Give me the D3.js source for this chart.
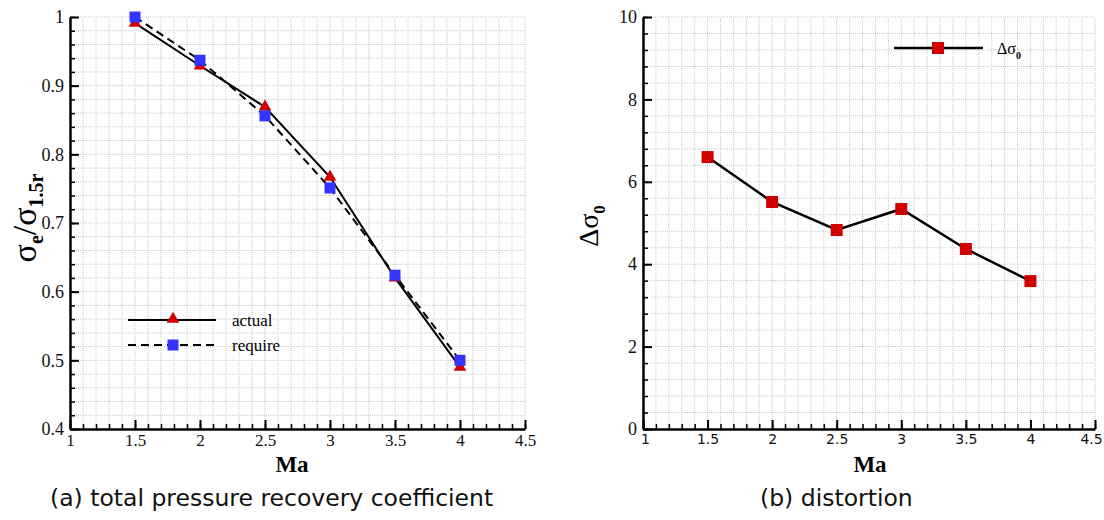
<!DOCTYPE html>
<html>
<head>
<meta charset="utf-8">
<script src="https://cdn.jsdelivr.net/npm/d3@7"></script>
<style>
  body { margin: 0; background: #fff; }
  svg { display: block; }
</style>
</head>
<body>
<svg width="1104" height="520"></svg>
<script>
// data
var mach = [1.5, 2, 2.5, 3, 3.5, 4];
var actual = [0.991, 0.929, 0.869, 0.767, 0.620, 0.490];
var required = [1.0, 0.937, 0.856, 0.751, 0.624, 0.500];
var distortion = [6.60, 5.51, 4.83, 5.34, 4.37, 3.59];

var xTicks = [1, 1.5, 2, 2.5, 3, 3.5, 4, 4.5];
var leftYTicks = [0.4, 0.5, 0.6, 0.7, 0.8, 0.9, 1];
var rightYTicks = [0, 2, 4, 6, 8, 10];

var svg = d3.select("svg");
var red = "#d10000", blue = "#3434ff";
var serif = "'Liberation Serif', 'Times New Roman', serif";
var sans = "'DejaVu Sans', Verdana, sans-serif";

function range(a, b, step) {
  var out = [];
  var n = Math.round((b - a) / step);
  for (var i = 0; i <= n; i++) out.push(+(a + i * step).toFixed(4));
  return out;
}

// one panel: grid, axes with inward ticks
function panel(x, y, yMinorStep, yTicks, yFmt, xFont, xFontSize) {
  var g = svg.append("g");
  var x0 = x.range()[0], x1 = x.range()[1];
  var y0 = y.range()[0], y1 = y.range()[1];
  var yd = y.domain();

  // dotted grid at the minor ticks
  g.selectAll(".vg").data(range(1, 4.5, 0.1)).enter().append("line")
    .attr("x1", function(d) { return x(d); }).attr("x2", function(d) { return x(d); })
    .attr("y1", y0).attr("y2", y1)
    .attr("stroke", "#c8c8c8").attr("stroke-width", 1).attr("stroke-dasharray", "1,1");
  g.selectAll(".hg").data(range(yd[0], yd[1], yMinorStep)).enter().append("line")
    .attr("y1", function(d) { return y(d); }).attr("y2", function(d) { return y(d); })
    .attr("x1", x0).attr("x2", x1)
    .attr("stroke", "#c8c8c8").attr("stroke-width", 1).attr("stroke-dasharray", "1,1");

  // minor ticks
  g.append("g").attr("transform", "translate(0," + y0 + ")")
    .call(d3.axisBottom(x).tickValues(range(1, 4.5, 0.1)).tickSize(-5).tickFormat(""))
    .call(function(a) { a.select(".domain").remove(); a.selectAll("line").attr("stroke-width", 1.5); });
  g.append("g").attr("transform", "translate(" + x0 + ",0)")
    .call(d3.axisLeft(y).tickValues(range(yd[0], yd[1], yMinorStep)).tickSize(-5).tickFormat(""))
    .call(function(a) { a.select(".domain").remove(); a.selectAll("line").attr("stroke-width", 1.5); });

  // major ticks + labels
  var xa = g.append("g").attr("transform", "translate(0," + y0 + ")")
    .call(d3.axisBottom(x).tickValues(xTicks).tickSize(-9).tickSizeOuter(0).tickPadding(5)
      .tickFormat(function(d) { return String(d); }));
  xa.selectAll("text").attr("font-family", xFont).attr("font-size", xFontSize).attr("fill", "#111");
  var ya = g.append("g").attr("transform", "translate(" + x0 + ",0)")
    .call(d3.axisLeft(y).tickValues(yTicks).tickSize(-9).tickSizeOuter(0).tickPadding(6).tickFormat(yFmt));
  ya.selectAll("text").attr("font-family", serif).attr("font-size", 18).attr("fill", "#111");
  g.selectAll(".domain").attr("stroke", "#000").attr("stroke-width", 2.5);
  g.selectAll(".tick line").attr("stroke", "#000");
  xa.selectAll(".tick line").attr("stroke-width", 2);
  ya.selectAll(".tick line").attr("stroke-width", 2);
  return { g: g, xa: xa };
}

// ---------- left panel ----------
var xL = d3.scaleLinear().domain([1, 4.5]).range([70, 525]);
var yL = d3.scaleLinear().domain([0.4, 1]).range([429, 17]);
var pL = panel(xL, yL, 0.02, leftYTicks, function(d) { return d === 1 ? "1" : d3.format(".1f")(d); }, serif, 17);
var gL = pL.g;

var lineL = d3.line()
  .x(function(d, i) { return xL(mach[i]); }).y(function(d) { return yL(d); });
gL.append("path").datum(required).attr("d", lineL)
  .attr("fill", "none").attr("stroke", "#000").attr("stroke-width", 2).attr("stroke-dasharray", "8,5");
gL.append("path").datum(actual).attr("d", lineL)
  .attr("fill", "none").attr("stroke", "#000").attr("stroke-width", 2);

var tri = d3.symbol().type(d3.symbolTriangle).size(70);
gL.selectAll(".tri").data(actual).enter().append("path")
  .attr("d", tri)
  .attr("transform", function(d, i) { return "translate(" + xL(mach[i]) + "," + yL(d) + ")"; })
  .attr("fill", red);
gL.selectAll(".sq").data(required).enter().append("rect")
  .attr("x", function(d, i) { return xL(mach[i]) - 5.5; })
  .attr("y", function(d) { return yL(d) - 5.5; })
  .attr("width", 11).attr("height", 11).attr("fill", blue);

// left legend
var lg = gL.append("g");
lg.append("line").attr("x1", 128).attr("x2", 216).attr("y1", 320).attr("y2", 320)
  .attr("stroke", "#000").attr("stroke-width", 2);
lg.append("path").attr("d", tri).attr("transform", "translate(173,319)").attr("fill", red);
lg.append("text").attr("x", 232).attr("y", 326).attr("font-family", serif).attr("font-size", 17).text("actual");
lg.append("line").attr("x1", 128).attr("x2", 216).attr("y1", 345).attr("y2", 345)
  .attr("stroke", "#000").attr("stroke-width", 2).attr("stroke-dasharray", "8,5");
lg.append("rect").attr("x", 167.5).attr("y", 339.5).attr("width", 11).attr("height", 11).attr("fill", blue);
lg.append("text").attr("x", 232).attr("y", 351).attr("font-family", serif).attr("font-size", 17).text("require");

// left axis titles
var tl = gL.append("text").attr("transform", "translate(36,218) rotate(-90)")
  .attr("text-anchor", "middle").attr("font-family", serif).attr("font-size", 34);
tl.append("tspan").text("σ");
tl.append("tspan").attr("dy", 7).attr("font-size", 20).attr("font-weight", "bold").text("e");
tl.append("tspan").attr("dy", -7).text("/σ");
tl.append("tspan").attr("dy", 7).attr("font-size", 20).attr("font-weight", "bold").text("1.5r");

gL.append("text").attr("x", 292).attr("y", 472).attr("text-anchor", "middle")
  .attr("font-family", serif).attr("font-weight", "bold").attr("font-size", 23).text("Ma");

// ---------- right panel ----------
var xR = d3.scaleLinear().domain([1, 4.5]).range([643, 1095]);
var yR = d3.scaleLinear().domain([0, 10]).range([429, 17]);
var pR = panel(xR, yR, 0.4, rightYTicks, d3.format("d"), sans, 14);
var gR = pR.g;
// keep the last label inside the picture
pR.xa.selectAll(".tick text").filter(function(d) { return d === 4.5; }).attr("dx", -4);
pR.xa.selectAll(".tick text").filter(function(d) { return d === 1; }).attr("dx", 2);

var lineD = d3.line()
  .x(function(d, i) { return xR(mach[i]); }).y(function(d) { return yR(d); });
gR.append("path").datum(distortion).attr("d", lineD)
  .attr("fill", "none").attr("stroke", "#000").attr("stroke-width", 2.5);
gR.selectAll(".sq").data(distortion).enter().append("rect")
  .attr("x", function(d, i) { return xR(mach[i]) - 6; })
  .attr("y", function(d) { return yR(d) - 6; })
  .attr("width", 12).attr("height", 12).attr("fill", red);

// right legend
var rg = gR.append("g");
rg.append("line").attr("x1", 894).attr("x2", 983).attr("y1", 48).attr("y2", 48)
  .attr("stroke", "#000").attr("stroke-width", 2.5);
rg.append("rect").attr("x", 932).attr("y", 42).attr("width", 12).attr("height", 12).attr("fill", red);
var lt = rg.append("text").attr("x", 997).attr("y", 54).attr("font-family", serif).attr("font-size", 16);
lt.append("tspan").text("Δσ");
lt.append("tspan").attr("dy", 5).attr("font-size", 10).attr("font-weight", "bold").text("0");

var tr = gR.append("text").attr("transform", "translate(598,226) rotate(-90)")
  .attr("text-anchor", "middle").attr("font-family", serif).attr("font-size", 28);
tr.append("tspan").text("Δσ");
tr.append("tspan").attr("dy", 7).attr("font-size", 17).attr("font-weight", "bold").text("0");

gR.append("text").attr("x", 870).attr("y", 472).attr("text-anchor", "middle")
  .attr("font-family", serif).attr("font-weight", "bold").attr("font-size", 23).text("Ma");

// captions
svg.append("text").attr("x", 50).attr("y", 506).attr("font-family", sans).attr("font-size", 23.5)
  .attr("fill", "#111").text("(a) total pressure recovery coefficient");
svg.append("text").attr("x", 760).attr("y", 506).attr("font-family", sans).attr("font-size", 23.5)
  .attr("fill", "#111").text("(b) distortion");
</script>
</body>
</html>
